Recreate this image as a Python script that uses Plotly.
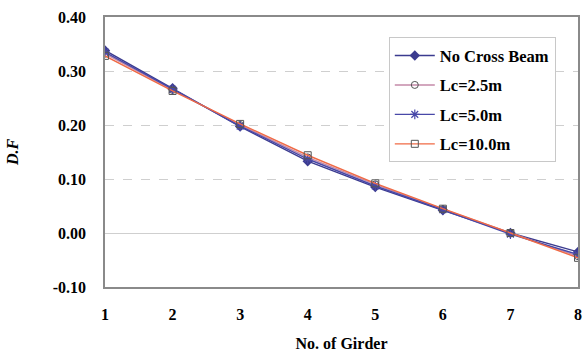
import plotly.graph_objects as go

girders = [1, 2, 3, 4, 5, 6, 7, 8]
no_cross = [0.338, 0.268, 0.197, 0.133, 0.085, 0.042, 0.000, -0.035]
lc_2_5 = [0.332, 0.265, 0.200, 0.140, 0.090, 0.044, 0.000, -0.043]
lc_5_0 = [0.335, 0.266, 0.198, 0.137, 0.087, 0.043, -0.002, -0.040]
lc_10_0 = [0.328, 0.263, 0.202, 0.144, 0.092, 0.045, 0.000, -0.046]

y_ticks = [-0.10, 0.00, 0.10, 0.20, 0.30, 0.40]
y_tick_labels = ["-0.10", "0.00", "0.10", "0.20", "0.30", "0.40"]

serif = "Liberation Serif"

fig = go.Figure()
series = [
    ("No Cross Beam", no_cross, "#3b3b8f", dict(symbol="diamond", size=8, color="#3b3b8f")),
    ("Lc=2.5m", lc_2_5, "#c58aa8", dict(symbol="circle-open", size=7, color="#555555")),
    ("Lc=5.0m", lc_5_0, "#4848a8", dict(symbol="asterisk-open", size=8, color="#4848a8", line=dict(width=1.2, color="#4848a8"))),
    ("Lc=10.0m", lc_10_0, "#f06a45", dict(symbol="square-open", size=7, color="#555555")),
]
for i, (name, vals, col, mk) in enumerate(series):
    fig.add_trace(go.Scatter(
        x=girders, y=vals, name=name, mode="lines+markers",
        line=dict(color=col, width=1.4), marker=mk, legendgroup=f"g{i}",
    ))

fig.update_layout(
    width=584, height=354,
    margin=dict(l=105, r=2, t=17, b=67),
    paper_bgcolor="white", plot_bgcolor="white",
    font=dict(family=serif, size=16, color="black"),
    legend=dict(
        x=0.60, y=0.925, xanchor="left", yanchor="top",
        bgcolor="white", bordercolor="#c8c8c8", borderwidth=1,
        font=dict(family=serif, size=16.5, color="black", weight="bold"),
        tracegroupgap=5, itemwidth=40,
    ),
    xaxis=dict(
        range=[1, 8], tickmode="array", tickvals=girders,
        showgrid=False, zeroline=False,
        showline=True, linecolor="#8a8a8a", linewidth=1.5, mirror=True,
        tickfont=dict(family=serif, size=16, weight="bold"),
        ticklabelstandoff=12,
        title=dict(text="No. of Girder", font=dict(family=serif, size=16, weight="bold"), standoff=16),
        ticks="", ticklen=0,
    ),
    yaxis=dict(
        range=[-0.10, 0.40], tickmode="array", tickvals=y_ticks, ticktext=y_tick_labels,
        showgrid=True, gridcolor="#cfcfcf", griddash="dash", gridwidth=1,
        zeroline=True, zerolinecolor="#cfcfcf", zerolinewidth=1,
        showline=True, linecolor="#8a8a8a", linewidth=1.5, mirror=True,
        tickfont=dict(family=serif, size=16, weight="bold"),
        ticklabelstandoff=14,
        ticks="", ticklen=0,
        title=dict(text="<i>D.F</i>", font=dict(family=serif, size=16, weight="bold"), standoff=30),
    ),
)

fig.write_html("out.html")
